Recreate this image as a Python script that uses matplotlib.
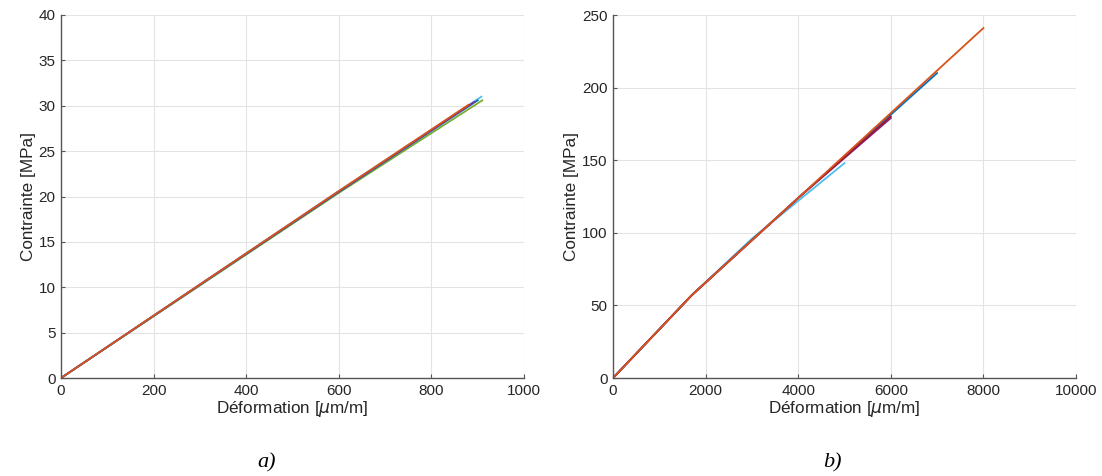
import matplotlib
matplotlib.use("Agg")
import matplotlib.pyplot as plt

plt.rcParams['font.family'] = ['Liberation Sans', 'DejaVu Sans']
plt.rcParams['mathtext.fontset'] = 'dejavusans'

# MATLAB default colour order
c_blue = '#0072BD'
c_orange = '#D95319'
c_yellow = '#EDB120'
c_purple = '#7E2F8E'
c_green = '#77AC30'
c_lblue = '#4DBEEE'
c_red = '#A2142F'

# ---- panel a) data: strain [µm/m], stress [MPa]
a1_x = [0, 300, 600, 908]
a1_y = [0, 10.3, 20.6, 31.0]
a2_x = [0, 300, 600, 900]
a2_y = [0, 10.25, 20.5, 30.6]
a3_x = [0, 300, 600, 910]
a3_y = [0, 10.2, 20.4, 30.6]
a4_x = [0, 300, 600, 880]
a4_y = [0, 10.3, 20.6, 30.1]
a5_x = [0, 300, 600, 892]
a5_y = [0, 10.3, 20.55, 30.4]

# ---- panel b) data
b1_x = [0, 1700, 3000, 5000]
b1_y = [0, 57, 96, 148]
b2_x = [0, 1700, 4000, 6000]
b2_y = [0, 57, 124, 179]
b3_x = [0, 1700, 4000, 6000]
b3_y = [0, 57, 124, 180]
b4_x = [0, 1700, 4000, 7000]
b4_y = [0, 57, 124, 210]
b5_x = [0, 1700, 4000, 6000, 8000]
b5_y = [0, 57, 124, 182.5, 241]

a_xticks = [0, 200, 400, 600, 800, 1000]
a_yticks = [0, 5, 10, 15, 20, 25, 30, 35, 40]
b_xticks = [0, 2000, 4000, 6000, 8000, 10000]
b_yticks = [0, 50, 100, 150, 200, 250]

xlabel = 'Déformation [$\\mu$m/m]'
ylabel = 'Contrainte [MPa]'

fig = plt.figure(figsize=(11.02, 4.76), dpi=100)
axA = fig.add_axes([61/1102, 98/476, (524-61)/1102, (378-15)/476])
axB = fig.add_axes([613/1102, 98/476, (1076-613)/1102, (378-15)/476])

lw = 1.3
axA.plot(a3_x, a3_y, color=c_green, lw=lw)
axA.plot(a1_x, a1_y, color=c_lblue, lw=lw)
axA.plot(a2_x, a2_y, color=c_blue, lw=lw)
axA.plot(a5_x, a5_y, color=c_purple, lw=lw)
axA.plot(a4_x, a4_y, color=c_orange, lw=lw)

axB.plot(b1_x, b1_y, color=c_lblue, lw=lw)
axB.plot(b4_x, b4_y, color=c_blue, lw=lw)
axB.plot(b2_x, b2_y, color=c_purple, lw=lw)
axB.plot(b3_x, b3_y, color=c_red, lw=lw)
axB.plot(b5_x, b5_y, color=c_orange, lw=lw)

for ax, xt, yt in [(axA, a_xticks, a_yticks), (axB, b_xticks, b_yticks)]:
    ax.set_xlim(xt[0], xt[-1])
    ax.set_ylim(yt[0], yt[-1])
    ax.set_xticks(xt)
    ax.set_yticks(yt)
    ax.grid(True, color='#E3E3E3', lw=0.8)
    ax.set_axisbelow(True)
    for s in ['top', 'right']:
        ax.spines[s].set_visible(False)
    for s in ['left', 'bottom']:
        ax.spines[s].set_color('#555555')
        ax.spines[s].set_linewidth(1.0)
    ax.tick_params(direction='in', length=3, width=0.8, colors='#555555',
                   labelcolor='#262626', labelsize=11, pad=4)
    ax.set_xlabel(xlabel, fontsize=12.3, color='#262626', labelpad=1)
    ax.set_ylabel(ylabel, fontsize=12.3, color='#262626', labelpad=2)

fig.text(267/1102, 1 - 463/476, 'a)', ha='center', va='center',
         fontsize=16, family='Liberation Serif', style='italic', color='black')
fig.text(832/1102, 1 - 463/476, 'b)', ha='center', va='center',
         fontsize=16, family='Liberation Serif', style='italic', color='black')

fig.savefig('out.png', dpi=100, facecolor='white')
